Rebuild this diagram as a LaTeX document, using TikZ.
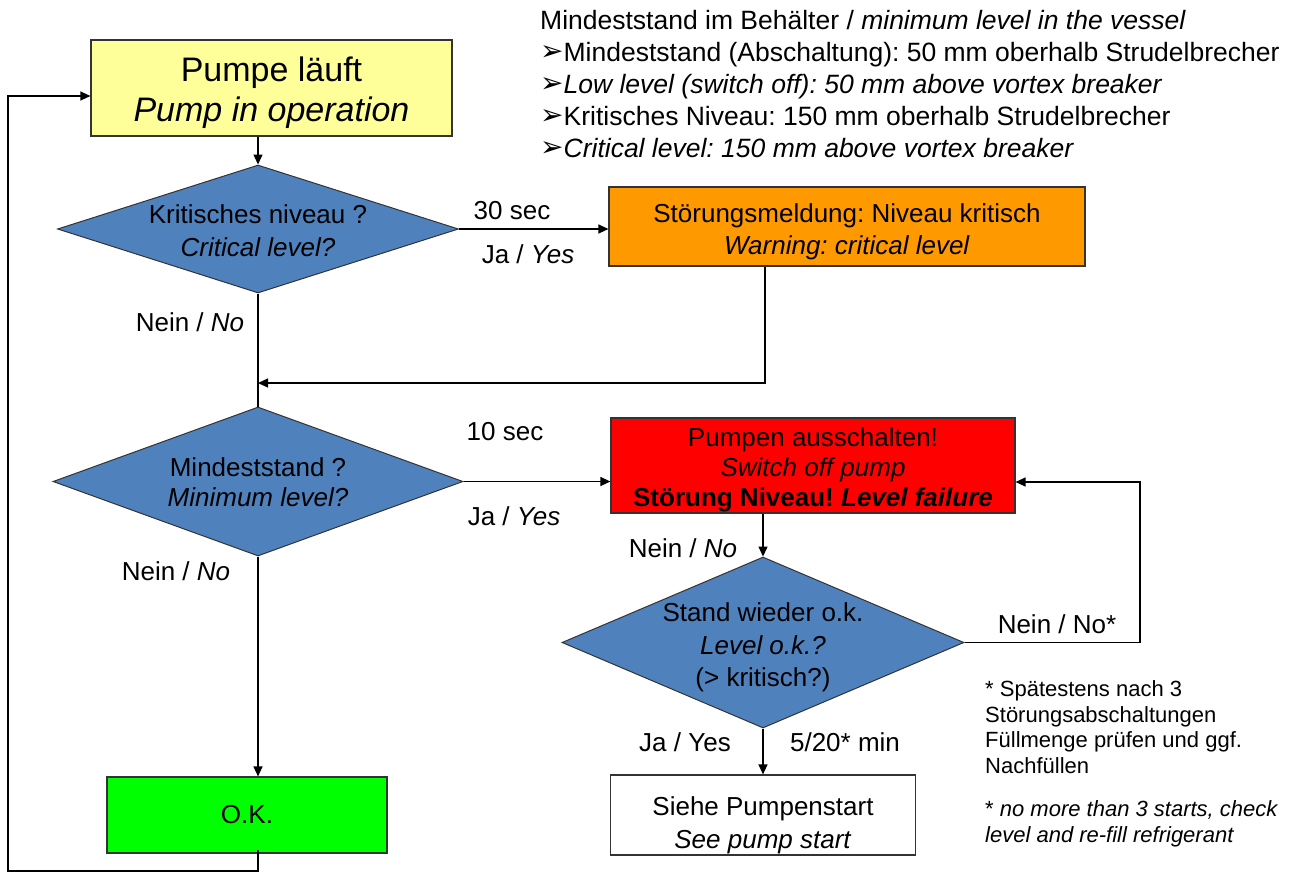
\documentclass[tikz,border=0pt]{standalone}
\usepackage{fontspec}
\setmainfont{Liberation Sans}
\newfontfamily\dejavu{DejaVu Sans}
\usetikzlibrary{arrows.meta,shapes.geometric}
\definecolor{boxyellow}{HTML}{FFFF99}
\definecolor{boxorange}{HTML}{FF9900}
\definecolor{boxred}{HTML}{FF0000}
\definecolor{boxgreen}{HTML}{00FF00}
\definecolor{diablue}{HTML}{4F81BD}
\definecolor{edgegray}{HTML}{333333}
\newcommand{\fs}[2]{\fontsize{#1}{#2}\selectfont}
\newcommand{\bul}{\raisebox{1pt}{\dejavu\fontsize{28}{28}\selectfont ➢}}
\frenchspacing
\begin{document}
\begin{tikzpicture}[x=1pt,y=-1pt,
  box/.style={draw=edgegray, line width=1.2pt, rectangle, inner sep=0pt},
  btext/.style={align=center, font=\fs{26}{32}, inner sep=0pt},
  dia/.style={draw=edgegray, line width=1pt, diamond, fill=diablue, inner sep=0pt},
  lbl/.style={font=\fs{26}{32}, inner sep=0pt},
  arr/.style={draw=black, line width=1.3pt, -{Triangle[length=10pt,width=9pt]}},
  ln/.style={draw=black, line width=1.3pt},
]
\useasboundingbox[fill=white] (0,0) rectangle (1293,873);

% boxes
\node[box, fill=boxyellow, minimum width=361pt, minimum height=96pt,
  label={[btext, font=\fs{34}{40}, yshift=-5pt]center:{Pumpe läuft\\\textit{Pump in operation}}}] (pump) at (271.5,88) {};
\node[box, fill=boxorange, minimum width=476pt, minimum height=79pt,
  label={[btext, yshift=-5pt]center:{Störungsmeldung: Niveau kritisch\\\textit{Warning: critical level}}}] (warn) at (847,226.5) {};
\node[box, fill=boxred, minimum width=404pt, minimum height=95pt,
  label={[btext, font=\fs{26}{30}, yshift=-4pt]center:{Pumpen ausschalten!\\\textit{Switch off pump}\\\textbf{Störung Niveau! \textit{Level failure}}}}] (off) at (813,465.5) {};
\node[box, fill=white, minimum width=305pt, minimum height=80pt,
  label={[btext, font=\fs{26}{33}, yshift=-10pt]center:{Siehe Pumpenstart\\\textit{See pump start}}}] (start) at (763,815) {};
\node[box, fill=boxgreen, minimum width=280pt, minimum height=76pt,
  label={[btext]center:{O.K.}}] (ok) at (247,815) {};

% decisions
\node[dia, minimum width=401pt, minimum height=128pt,
  label={[btext, font=\fs{26}{33}, yshift=-2pt]center:{Kritisches niveau ?\\\textit{Critical level?}}}] (d1) at (258,229) {};
\node[dia, minimum width=410pt, minimum height=149pt,
  label={[btext, font=\fs{26}{30}, yshift=-1pt]center:{Mindeststand ?\\\textit{Minimum level?}}}] (d2) at (258,481.5) {};
\node[dia, minimum width=402pt, minimum height=171pt,
  label={[btext, font=\fs{26}{32.5}, yshift=-5pt]center:{Stand wieder o.k.\\\textit{Level o.k.?}\\(> kritisch?)}}] (d3) at (763,642.5) {};

% helper coordinates
\coordinate (j1) at (258,383);
\coordinate (lb) at (8,871);
\coordinate (lt) at (8,96);
\coordinate (rr) at (1140,482);

% connectors
\draw[arr] (d1.north |- pump.south) -- (d1.north);
\draw[arr] (d1.east) -- (d1.east -| warn.west);
\draw[ln] (d1.south) -- (d2.north);
\draw[arr] ([xshift=-82pt]warn.south) |- (j1);
\draw[arr] (d2.east) -- (d2.east -| off.west);
\draw[arr] (d2.south) -- (d2.south |- ok.north);
\draw[arr] (d3.north |- off.south) -- (d3.north);
\draw[arr] (d3.south) -- (start.north);
\draw[arr] (d3.east) -| (rr) -- (rr -| off.east);
\draw[arr] ([yshift=4pt]d2.south |- ok.south) |- (lb) -- (lt) -- (lt -| pump.west);

% edge labels
\node[lbl] (l30) at (512,211) {30 sec};
\node[lbl] (lj1) at (528,254) {Ja / \textit{Yes}};
\node[lbl] (ln1) at (190,322) {Nein / \textit{No}};
\node[lbl] (l10) at (505,432) {10 sec};
\node[lbl] (lj2) at (514,516) {Ja / \textit{Yes}};
\node[lbl] (ln2) at (176,571) {Nein / \textit{No}};
\node[lbl] (ln3) at (683,548) {Nein / \textit{No}};
\node[lbl] (ln4) at (1057,624) {Nein / No*};
\node[lbl] (lj3) at (685,742) {Ja / Yes};
\node[lbl] (lmin) at (845,742) {5/20* min};

% notes
\node[anchor=west, align=left, inner sep=0pt, font=\fs{26.5}{32}] (notes) at (540,84)
 {Mindeststand im Behälter / \textit{minimum level in the vessel}\\
  \bul Mindeststand (Abschaltung): 50 mm oberhalb Strudelbrecher\\
  \bul\textit{Low level (switch off): 50 mm above vortex breaker}\\
  \bul Kritisches Niveau: 150 mm oberhalb Strudelbrecher\\
  \bul\textit{Critical level: 150 mm above vortex breaker}};
\node[anchor=west, align=left, inner sep=0pt, font=\fs{22}{25.7}] (fn1) at (985,727)
 {* Spätestens nach 3\\Störungsabschaltungen\\Füllmenge prüfen und ggf.\\Nachfüllen};
\node[anchor=west, align=left, inner sep=0pt, font=\fs{22}{25.5}] (fn2) at (985,824)
 {* \textit{no more than 3 starts, check}\\\textit{level and re-fill refrigerant}};
\end{tikzpicture}
\end{document}
